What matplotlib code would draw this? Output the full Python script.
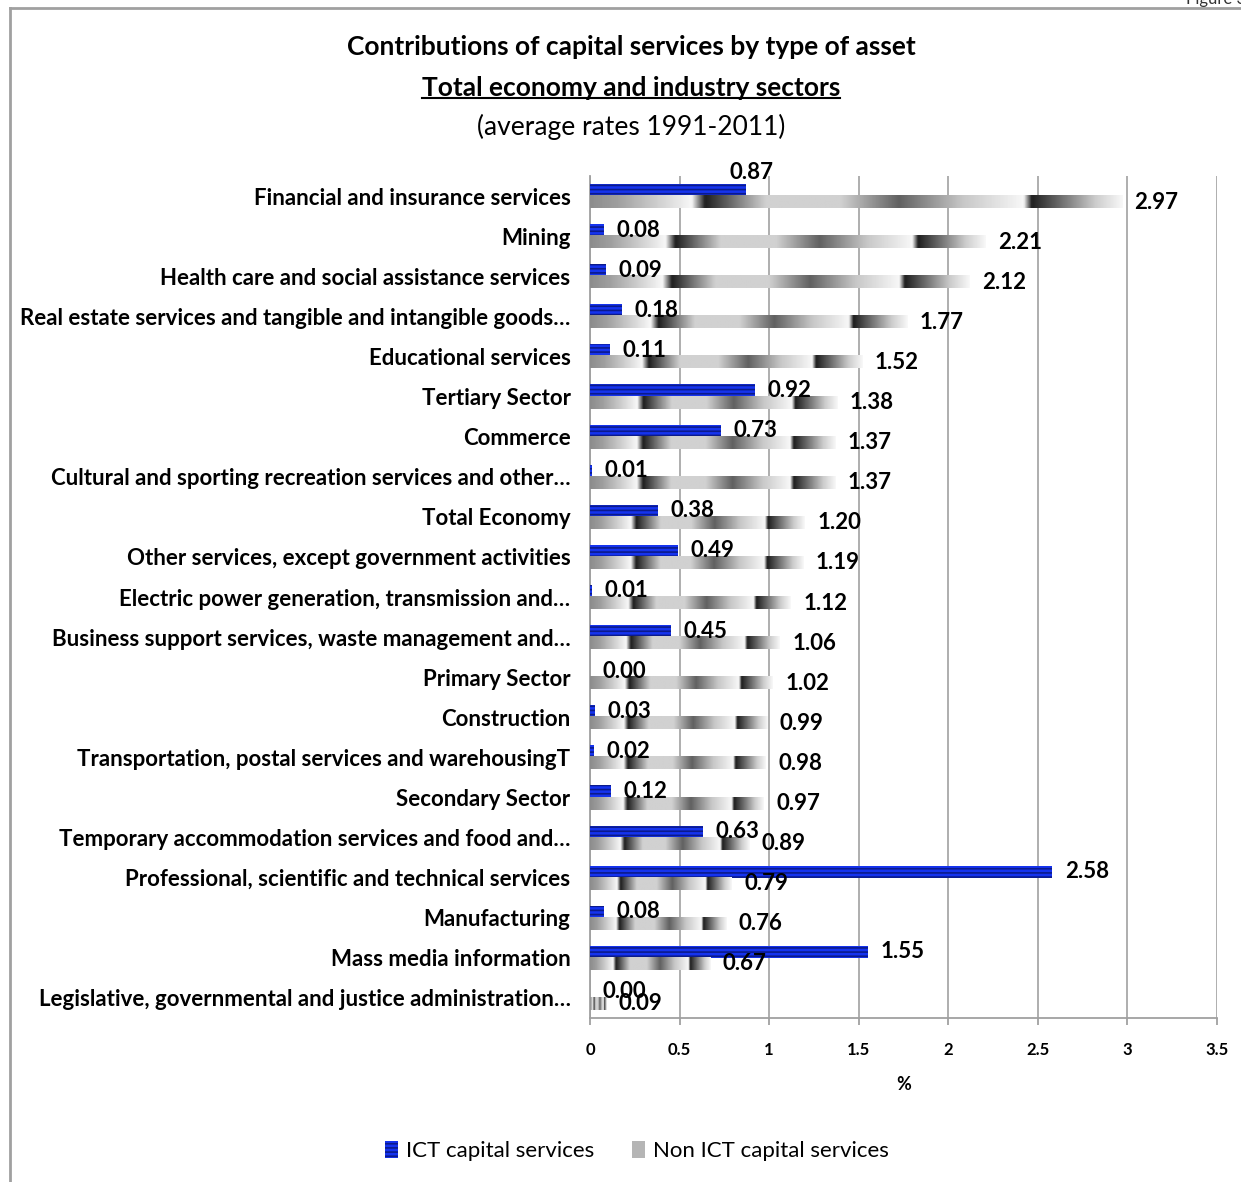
import numpy as np
import matplotlib
matplotlib.use("Agg")
import matplotlib.pyplot as plt
from matplotlib.patches import Patch
from matplotlib.lines import Line2D

# data (average rates 1991-2011, %)
sectors = [
    "Financial and insurance services",
    "Mining",
    "Health care and social assistance services",
    "Real estate services and tangible and intangible goods…",
    "Educational services",
    "Tertiary Sector",
    "Commerce",
    "Cultural and sporting recreation services and other…",
    "Total Economy",
    "Other services, except government activities",
    "Electric power generation, transmission and…",
    "Business support services, waste management and…",
    "Primary Sector",
    "Construction",
    "Transportation, postal services and warehousingT",
    "Secondary Sector",
    "Temporary accommodation services and food and…",
    "Professional, scientific and technical services",
    "Manufacturing",
    "Mass media information",
    "Legislative, governmental and justice administration…",
]
ict = [0.87, 0.08, 0.09, 0.18, 0.11, 0.92, 0.73, 0.01, 0.38, 0.49, 0.01,
       0.45, 0.00, 0.03, 0.02, 0.12, 0.63, 2.58, 0.08, 1.55, 0.00]
non_ict = [2.97, 2.21, 2.12, 1.77, 1.52, 1.38, 1.37, 1.37, 1.20, 1.19, 1.12,
           1.06, 1.02, 0.99, 0.98, 0.97, 0.89, 0.79, 0.76, 0.67, 0.09]
xticks = [0, 0.5, 1, 1.5, 2, 2.5, 3, 3.5]

plt.rcParams['font.family'] = ['Lato', 'DejaVu Sans']

W, H = 1241, 1182
fig = plt.figure(figsize=(W / 100, H / 100), dpi=100)
fig.patch.set_facecolor('white')

ax = fig.add_axes([590 / W, 1 - 1018 / H, (1217 - 590) / W, (1018 - 176) / H])

y = np.arange(len(sectors))
bh = 0.3

# ICT bars: striped blue
matplotlib.rcParams['hatch.linewidth'] = 1.2
ax.barh(y - bh / 2, ict, height=bh, color='#1533ee', edgecolor='#0b1a8c',
        linewidth=0, hatch='----', zorder=3)

# Non ICT bars: grey gradient stretched along each bar
stops_t = [0.0, 0.05, 0.19, 0.215, 0.33, 0.47, 0.58, 0.70, 0.815, 0.83, 0.95, 1.0]
stops_g = [0.55, 0.62, 0.97, 0.12, 0.82, 0.82, 0.38, 0.78, 0.97, 0.12, 0.80, 0.97]
tt = np.linspace(0, 1, 300)
grad = np.interp(tt, stops_t, stops_g)[np.newaxis, :]
for yi, v in zip(y, non_ict):
    ax.imshow(grad, extent=(0, v, yi + bh, yi), aspect='auto', cmap='gray',
              vmin=0, vmax=1, interpolation='bilinear', zorder=3)

# data labels
for i, (yi, a, b) in enumerate(zip(y, ict, non_ict)):
    if i == 0:
        ax.annotate(f"{a:.2f}", (a, yi - bh), xytext=(4, 1), textcoords='offset points',
                    ha='center', va='bottom', fontsize=16, fontweight='bold', zorder=5)
    else:
        ax.annotate(f"{a:.2f}", (a, yi - bh / 2), xytext=(9, 0), textcoords='offset points',
                    ha='left', va='center', fontsize=16, fontweight='bold', zorder=5)
    ax.annotate(f"{b:.2f}", (b, yi + bh / 2), xytext=(9, 0), textcoords='offset points',
                ha='left', va='center', fontsize=16, fontweight='bold', zorder=5)

ax.set_xlim(0, 3.5)
ax.set_ylim(len(sectors) - 0.5, -0.5)
ax.set_xticks(xticks)
ax.set_xticklabels([f"{t:g}" for t in xticks], fontsize=12, fontweight='bold')
ax.set_yticks(y)
ax.set_yticklabels(sectors, fontsize=16, fontweight='bold')
ax.tick_params(axis='y', length=0, pad=14)
ax.tick_params(axis='x', length=5, color='#a0a0a0', width=1.3, pad=12)
ax.set_xlabel('%', fontsize=13, fontweight='bold', labelpad=13)

ax.grid(axis='x', color='#a8a8a8', linewidth=1.3, zorder=0)
ax.set_axisbelow(True)
for s in ['top', 'right']:
    ax.spines[s].set_visible(False)
for s in ['left', 'bottom']:
    ax.spines[s].set_color('#a0a0a0')
    ax.spines[s].set_linewidth(1.3)

# titles
cx = 631 / W
fig.text(cx, 1 - 47 / H, "Contributions of capital services by type of asset",
         ha='center', va='center', fontsize=19, fontweight='bold')
t2 = fig.text(cx, 1 - 88 / H, "Total economy and industry sectors",
              ha='center', va='center', fontsize=19, fontweight='bold')
fig.text(cx, 1 - 127 / H, "(average rates 1991-2011)",
         ha='center', va='center', fontsize=19)

# legend
handles = [Patch(facecolor='#1533ee', edgecolor='#0b1a8c', linewidth=0, hatch='----'),
           Patch(facecolor='#b5b5b5', edgecolor='#888888', linewidth=0)]
fig.legend(handles, ["ICT capital services", "Non ICT capital services"],
           loc='center', bbox_to_anchor=(637 / W, 1 - 1151 / H), ncol=2, frameon=False,
           fontsize=16, handlelength=0.6, handleheight=0.8, handletextpad=0.35,
           columnspacing=1.7)

# outer frame of the chart area
fig.add_artist(Line2D([10 / W, 1], [1 - 8 / H, 1 - 8 / H], transform=fig.transFigure,
                      color='#a0a0a0', linewidth=2))
fig.add_artist(Line2D([10 / W, 10 / W], [1 - 8 / H, 0], transform=fig.transFigure,
                      color='#a0a0a0', linewidth=2))
fig.text(1186 / W, 1 + 9 / H, "Figure 3", ha='left', va='top', fontsize=12, color='#333333')

# underline the second title line
fig.canvas.draw()
bb = t2.get_window_extent(fig.canvas.get_renderer())
inv = fig.transFigure.inverted()
(x0, y0), (x1, _) = inv.transform([(bb.x0, bb.y0 + 2), (bb.x1, bb.y0 + 2)])
fig.add_artist(Line2D([x0, x1], [y0, y0], transform=fig.transFigure,
                      color='black', linewidth=1.5))

fig.savefig("out.png", dpi=100)
